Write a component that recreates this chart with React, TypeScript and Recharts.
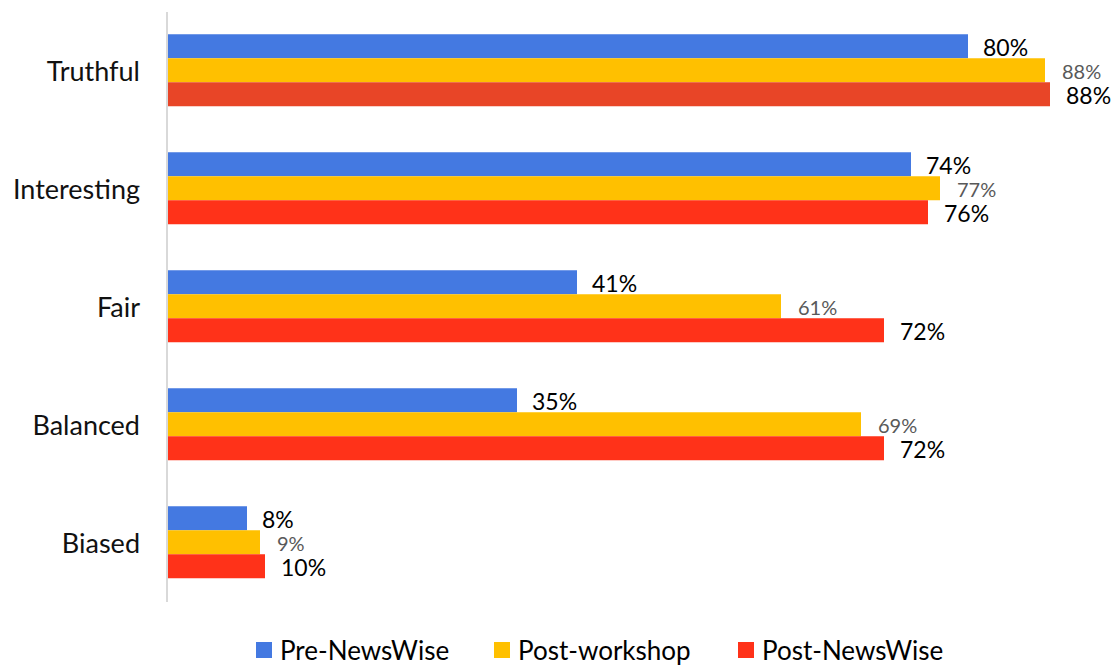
import React from 'react';
import { BarChart, Bar, XAxis, YAxis, LabelList, Cell } from 'recharts';

const categories = ['Truthful', 'Interesting', 'Fair', 'Balanced', 'Biased'];
const preNewsWise = [80.1, 74.4, 41.0, 35.0, 8.0];
const postWorkshop = [87.8, 77.3, 61.4, 69.4, 9.3];
const postNewsWise = [88.3, 76.1, 71.7, 71.7, 9.8];

const seriesNames = ['Pre-NewsWise', 'Post-workshop', 'Post-NewsWise'];

const data = categories.map((c, i) => ({
  name: c,
  pre: preNewsWise[i],
  workshop: postWorkshop[i],
  post: postNewsWise[i],
}));

const BLUE = '#4479E1';
const GOLD = '#FFC000';
const RED = '#FF3219';
const RED_TRUTHFUL = '#E84527';
const FONT = 'Lato, "Open Sans", sans-serif';

const makeLabel = (fontSize: number, fill: string, offset: number) => (props: any) => {
  const { x, y, width, height, value } = props;
  return (
    <text
      x={Number(x) + Number(width) + offset}
      y={Number(y) + Number(height) / 2 + 1}
      fontSize={fontSize}
      fill={fill}
      fontFamily={FONT}
      dominantBaseline="central"
      textAnchor="start"
    >
      {Math.round(Number(value))}%
    </text>
  );
};

const legendColors = [BLUE, GOLD, RED];
const legendLefts = [256, 494, 738];

export default function App() {
  return (
    <div style={{ position: 'absolute', left: 0, top: 0, width: 1114, height: 667, background: '#fff', overflow: 'hidden' }}>
      <BarChart
        width={1114}
        height={667}
        data={data}
        layout="vertical"
        margin={{ top: 12, right: 7, bottom: 65, left: 10 }}
        barCategoryGap="18.9%"
        barGap={0}
      >
        <XAxis type="number" domain={[0, 94]} hide />
        <YAxis
          type="category"
          dataKey="name"
          width={157}
          axisLine={{ stroke: '#D9D9D9', strokeWidth: 2 }}
          tickLine={false}
          tickSize={0}
          tickMargin={27}
          tick={{ fontSize: 27, fill: '#111', fontFamily: FONT }}
        />
        <Bar dataKey="pre" name={seriesNames[0]} fill={BLUE} isAnimationActive={false}>
          <LabelList dataKey="pre" content={makeLabel(23, '#000', 15)} />
        </Bar>
        <Bar dataKey="workshop" name={seriesNames[1]} fill={GOLD} isAnimationActive={false}>
          <LabelList dataKey="workshop" content={makeLabel(20, '#595959', 17)} />
        </Bar>
        <Bar dataKey="post" name={seriesNames[2]} fill={RED} isAnimationActive={false}>
          {data.map((d, i) => (
            <Cell key={d.name} fill={i === 0 ? RED_TRUTHFUL : RED} />
          ))}
          <LabelList dataKey="post" content={makeLabel(23, '#000', 16)} />
        </Bar>
      </BarChart>
      {seriesNames.map((n, i) => (
        <div
          key={n}
          style={{
            position: 'absolute',
            left: legendLefts[i],
            top: 634,
            height: 32,
            lineHeight: '32px',
            display: 'flex',
            alignItems: 'center',
            fontFamily: FONT,
            fontSize: 26,
            color: '#000',
            whiteSpace: 'nowrap',
          }}
        >
          <span style={{ width: 16, height: 16, background: legendColors[i], display: 'inline-block', marginRight: 8 }} />
          <span>{n}</span>
        </div>
      ))}
    </div>
  );
}
